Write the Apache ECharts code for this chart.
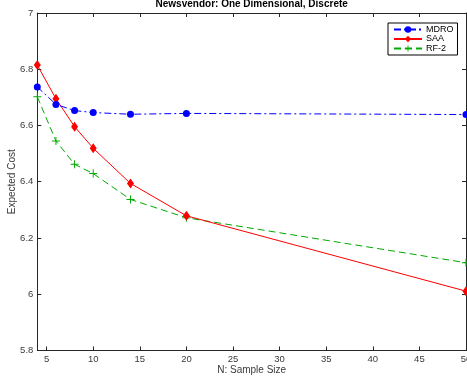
<!DOCTYPE html>
<html>
<head>
<meta charset="utf-8">
<script src="https://cdn.jsdelivr.net/npm/echarts@6/dist/echarts.min.js"></script>
<style>
  html, body { margin: 0; padding: 0; background: #fff; }
  #chart { width: 467px; height: 379px; }
</style>
</head>
<body>
<div id="chart"></div>
<script>
// Expected cost of each method against the sample size N
const sampleSizes = [4, 6, 8, 10, 14, 20, 50];
const mdroCost = [6.737, 6.675, 6.653, 6.646, 6.640, 6.643, 6.639];
const saaCost  = [6.815, 6.695, 6.596, 6.519, 6.394, 6.279, 6.011];
const rf2Cost  = [6.702, 6.545, 6.462, 6.429, 6.337, 6.272, 6.112];

const xTicks = [5, 10, 15, 20, 25, 30, 35, 40, 45, 50];

const FONT = '"Liberation Sans", Arial, Helvetica, sans-serif';
const AXIS_COLOR = '#262626';
const LABEL_COLOR = '#3a3a3a';

const pairs = (ys) => sampleSizes.map((x, i) => [x, ys[i]]);

const plusPath = 'path://M4.4,0h1.2v4.4h4.4v1.2h-4.4v4.4h-1.2v-4.4h-4.4v-1.2h4.4z';

const chart = echarts.init(document.getElementById('chart'), null, { renderer: 'canvas' });

const baseX = {
  type: 'value', min: 4, max: 50,
  axisLine: { show: true, lineStyle: { color: AXIS_COLOR, width: 1 } },
  axisTick: { show: true, inside: true, length: 4, customValues: xTicks, lineStyle: { color: AXIS_COLOR } },
  splitLine: { show: false }
};
const baseY = {
  type: 'value', min: 5.8, max: 7, interval: 0.2,
  axisLine: { show: true, lineStyle: { color: AXIS_COLOR, width: 1 } },
  axisTick: { show: true, inside: true, length: 4, lineStyle: { color: AXIS_COLOR } },
  splitLine: { show: false }
};

chart.setOption({
  animation: false,
  backgroundColor: '#fff',
  title: {
    text: 'Newsvendor: One Dimensional, Discrete',
    left: 251.7, textAlign: 'center', top: -1, padding: 0,
    textStyle: { fontFamily: FONT, fontSize: 10, fontWeight: 'bold', color: '#000' }
  },
  grid: { left: 37.3, right: 1, top: 13, bottom: 28.5, containLabel: false, outerBoundsMode: 'none' },
  legend: {
    orient: 'vertical',
    left: 388, top: 23,
    padding: [2, 4, 2, 5],
    itemGap: 0.5, itemWidth: 28, itemHeight: 8,
    backgroundColor: '#fff', borderColor: '#000', borderWidth: 1,
    textStyle: { fontFamily: FONT, fontSize: 9, color: '#000', lineHeight: 8, padding: [0, 0, 0, -1] },
    data: ['MDRO', 'SAA', 'RF-2']
  },
  xAxis: [
    Object.assign({}, baseX, {
      position: 'bottom',
      name: 'N: Sample Size', nameLocation: 'middle', nameGap: 15, nameMoveOverlap: false,
      nameTextStyle: { fontFamily: FONT, fontSize: 10, color: LABEL_COLOR },
      axisLabel: { show: true, customValues: xTicks, margin: 4, fontFamily: FONT, fontSize: 9.5, color: LABEL_COLOR }
    }),
    Object.assign({}, baseX, { position: 'top', axisLabel: { show: false } })
  ],
  yAxis: [
    Object.assign({}, baseY, {
      position: 'left',
      name: 'Expected Cost', nameLocation: 'middle', nameGap: 20, nameRotate: 90, nameMoveOverlap: false,
      nameTextStyle: { fontFamily: FONT, fontSize: 10, color: LABEL_COLOR },
      axisLabel: { show: true, margin: 4, fontFamily: FONT, fontSize: 9.5, color: LABEL_COLOR }
    }),
    Object.assign({}, baseY, { position: 'right', axisLabel: { show: false } })
  ],
  series: [
    {
      name: 'MDRO', type: 'line', data: pairs(mdroCost),
      symbol: 'circle', symbolSize: 7,
      itemStyle: { color: '#0000ff' },
      lineStyle: { color: '#0000ff', width: 1, type: [7, 3, 2, 3] },
      z: 3
    },
    {
      name: 'SAA', type: 'line', data: pairs(saaCost),
      symbol: 'diamond', symbolSize: [7, 10],
      itemStyle: { color: '#ff0000' },
      lineStyle: { color: '#ff0000', width: 1, type: 'solid' },
      z: 2
    },
    {
      name: 'RF-2', type: 'line', data: pairs(rf2Cost),
      symbol: plusPath, symbolSize: 8,
      itemStyle: { color: '#00aa00' },
      lineStyle: { color: '#00aa00', width: 1, type: [7, 4] },
      z: 1
    }
  ]
});
</script>
</body>
</html>
